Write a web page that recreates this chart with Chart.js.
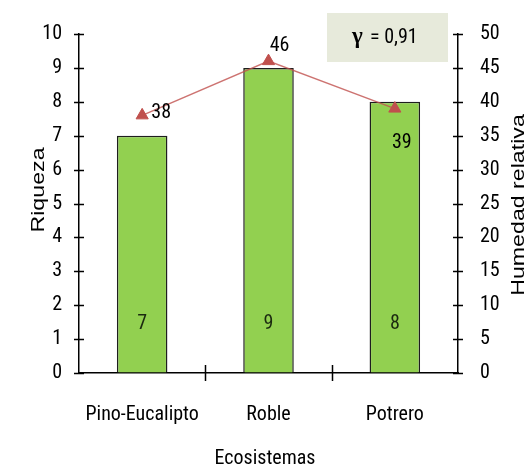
<!DOCTYPE html>
<html>
<head>
<meta charset="utf-8">
<title>Riqueza y humedad relativa por ecosistema</title>
<script src="https://cdn.jsdelivr.net/npm/chart.js@4.4.1/dist/chart.umd.min.js"></script>
<style>
  html, body { margin: 0; padding: 0; background: #fff; }
  #wrap { width: 532px; height: 473px; }
</style>
</head>
<body>
<div id="wrap"><canvas id="chart" width="532" height="473"></canvas></div>
<script>
const ecosistemas = ['Pino-Eucalipto', 'Roble', 'Potrero'];
const riqueza = [7, 9, 8];
const humedad = [38, 46, 39];
const gammaLabel = '= 0,91';

const FONT = '"Roboto Condensed", "Liberation Sans", sans-serif';
const ctx = document.getElementById('chart').getContext('2d');

// tick marks that cross the axis lines
const crossTicks = {
    id: 'crossTicks',
    afterDraw(chart) {
        const c = chart.ctx;
        const area = chart.chartArea;
        const y = chart.scales.y;
        const y1 = chart.scales.y1;
        const x = chart.scales.x;
        c.save();
        c.strokeStyle = '#000';
        c.lineWidth = 1.5;
        c.beginPath();
        y.ticks.forEach(t => {
            const py = Math.round(y.getPixelForValue(t.value)) + 0.5;
            c.moveTo(area.left - 5, py);
            c.lineTo(area.left + 5, py);
        });
        y1.ticks.forEach(t => {
            const py = Math.round(y1.getPixelForValue(t.value)) + 0.5;
            c.moveTo(area.right - 5, py);
            c.lineTo(area.right + 5, py);
        });
        for (let i = 0; i < ecosistemas.length - 1; i++) {
            const px = Math.round((x.getPixelForValue(i) + x.getPixelForValue(i + 1)) / 2) + 0.5;
            c.moveTo(px, area.bottom - 8);
            c.lineTo(px, area.bottom + 8);
        }
        c.stroke();
        c.restore();
    }
};

function verticalTitle(c, text, x, y) {
    c.save();
    c.translate(x, y);
    c.rotate(-Math.PI / 2);
    c.scale(1.22, 1);
    c.fillText(text, 0, 0);
    c.restore();
}

// value labels, axis titles and the correlation box
const annotations = {
    id: 'annotations',
    afterDraw(chart) {
        const c = chart.ctx;
        c.save();
        c.textAlign = 'center';
        c.textBaseline = 'middle';
        c.font = '20px ' + FONT;

        // bar values near the base of each bar
        const y = chart.scales.y;
        c.fillStyle = '#1b2a10';
        chart.getDatasetMeta(1).data.forEach((bar, i) => {
            c.fillText(String(riqueza[i]), bar.x, y.getPixelForValue(1.45));
        });

        // humidity values next to the markers
        const offsets = [[19, -2], [11, -15], [7, 34]];
        c.fillStyle = '#000';
        chart.getDatasetMeta(0).data.forEach((pt, i) => {
            c.fillText(String(humedad[i]), pt.x + offsets[i][0], pt.y + offsets[i][1]);
        });

        // axis titles
        c.font = '20px ' + FONT;
        c.fillText('Ecosistemas', 265, 459);
        c.font = '19px "Liberation Sans", sans-serif';
        verticalTitle(c, 'Riqueza', 39, 190);
        verticalTitle(c, 'Humedad relativa', 519, 205);

        // correlation box
        c.fillStyle = '#e7eadb';
        c.fillRect(327, 13, 121, 49);
        c.fillStyle = '#000';
        c.textAlign = 'left';
        c.font = 'bold 23px "Liberation Serif", serif';
        c.fillText('\u03b3', 352, 37);
        c.font = '20px ' + FONT;
        c.fillText(gammaLabel, 370, 38);
        c.restore();
    }
};

new Chart(ctx, {
    data: {
        labels: ecosistemas,
        datasets: [{
            type: 'line',
            label: 'Humedad relativa',
            data: humedad,
            yAxisID: 'y1',
            order: 0,
            borderColor: 'rgba(192, 80, 77, 0.8)',
            borderWidth: 1.5,
            pointStyle: 'triangle',
            pointRadius: 7,
            pointBackgroundColor: '#c0504d',
            pointBorderColor: '#c0504d',
            pointBorderWidth: 1
        }, {
            type: 'bar',
            label: 'Riqueza',
            data: riqueza,
            yAxisID: 'y',
            order: 1,
            backgroundColor: '#92d050',
            borderColor: '#1e1e1e',
            borderWidth: 1.5,
            categoryPercentage: 1,
            barPercentage: 0.4
        }]
    },
    options: {
        responsive: false,
        animation: false,
        layout: { padding: { top: 22, left: 0, right: 0, bottom: 0 } },
        plugins: {
            legend: { display: false },
            tooltip: { enabled: false }
        },
        scales: {
            x: {
                type: 'category',
                offset: true,
                grid: { display: true, drawOnChartArea: false, drawTicks: false },
                border: { color: '#000', width: 1.5 },
                ticks: { color: '#000', font: { family: FONT, size: 20 }, padding: 30, maxRotation: 0 },
                afterFit(scale) { scale.height = 100; }
            },
            y: {
                position: 'left',
                min: 0,
                max: 10,
                grid: { display: true, drawOnChartArea: false, drawTicks: false },
                border: { color: '#000', width: 1.5 },
                ticks: { stepSize: 1, color: '#000', font: { family: FONT, size: 20 }, padding: 17 },
                afterFit(scale) { scale.width = 79; }
            },
            y1: {
                position: 'right',
                min: 0,
                max: 50,
                grid: { display: true, drawOnChartArea: false, drawTicks: false },
                border: { color: '#000', width: 1.5 },
                ticks: { stepSize: 5, color: '#000', font: { family: FONT, size: 20 }, padding: 22 },
                afterFit(scale) { scale.width = 74; }
            }
        }
    },
    plugins: [crossTicks, annotations]
});
</script>
</body>
</html>
